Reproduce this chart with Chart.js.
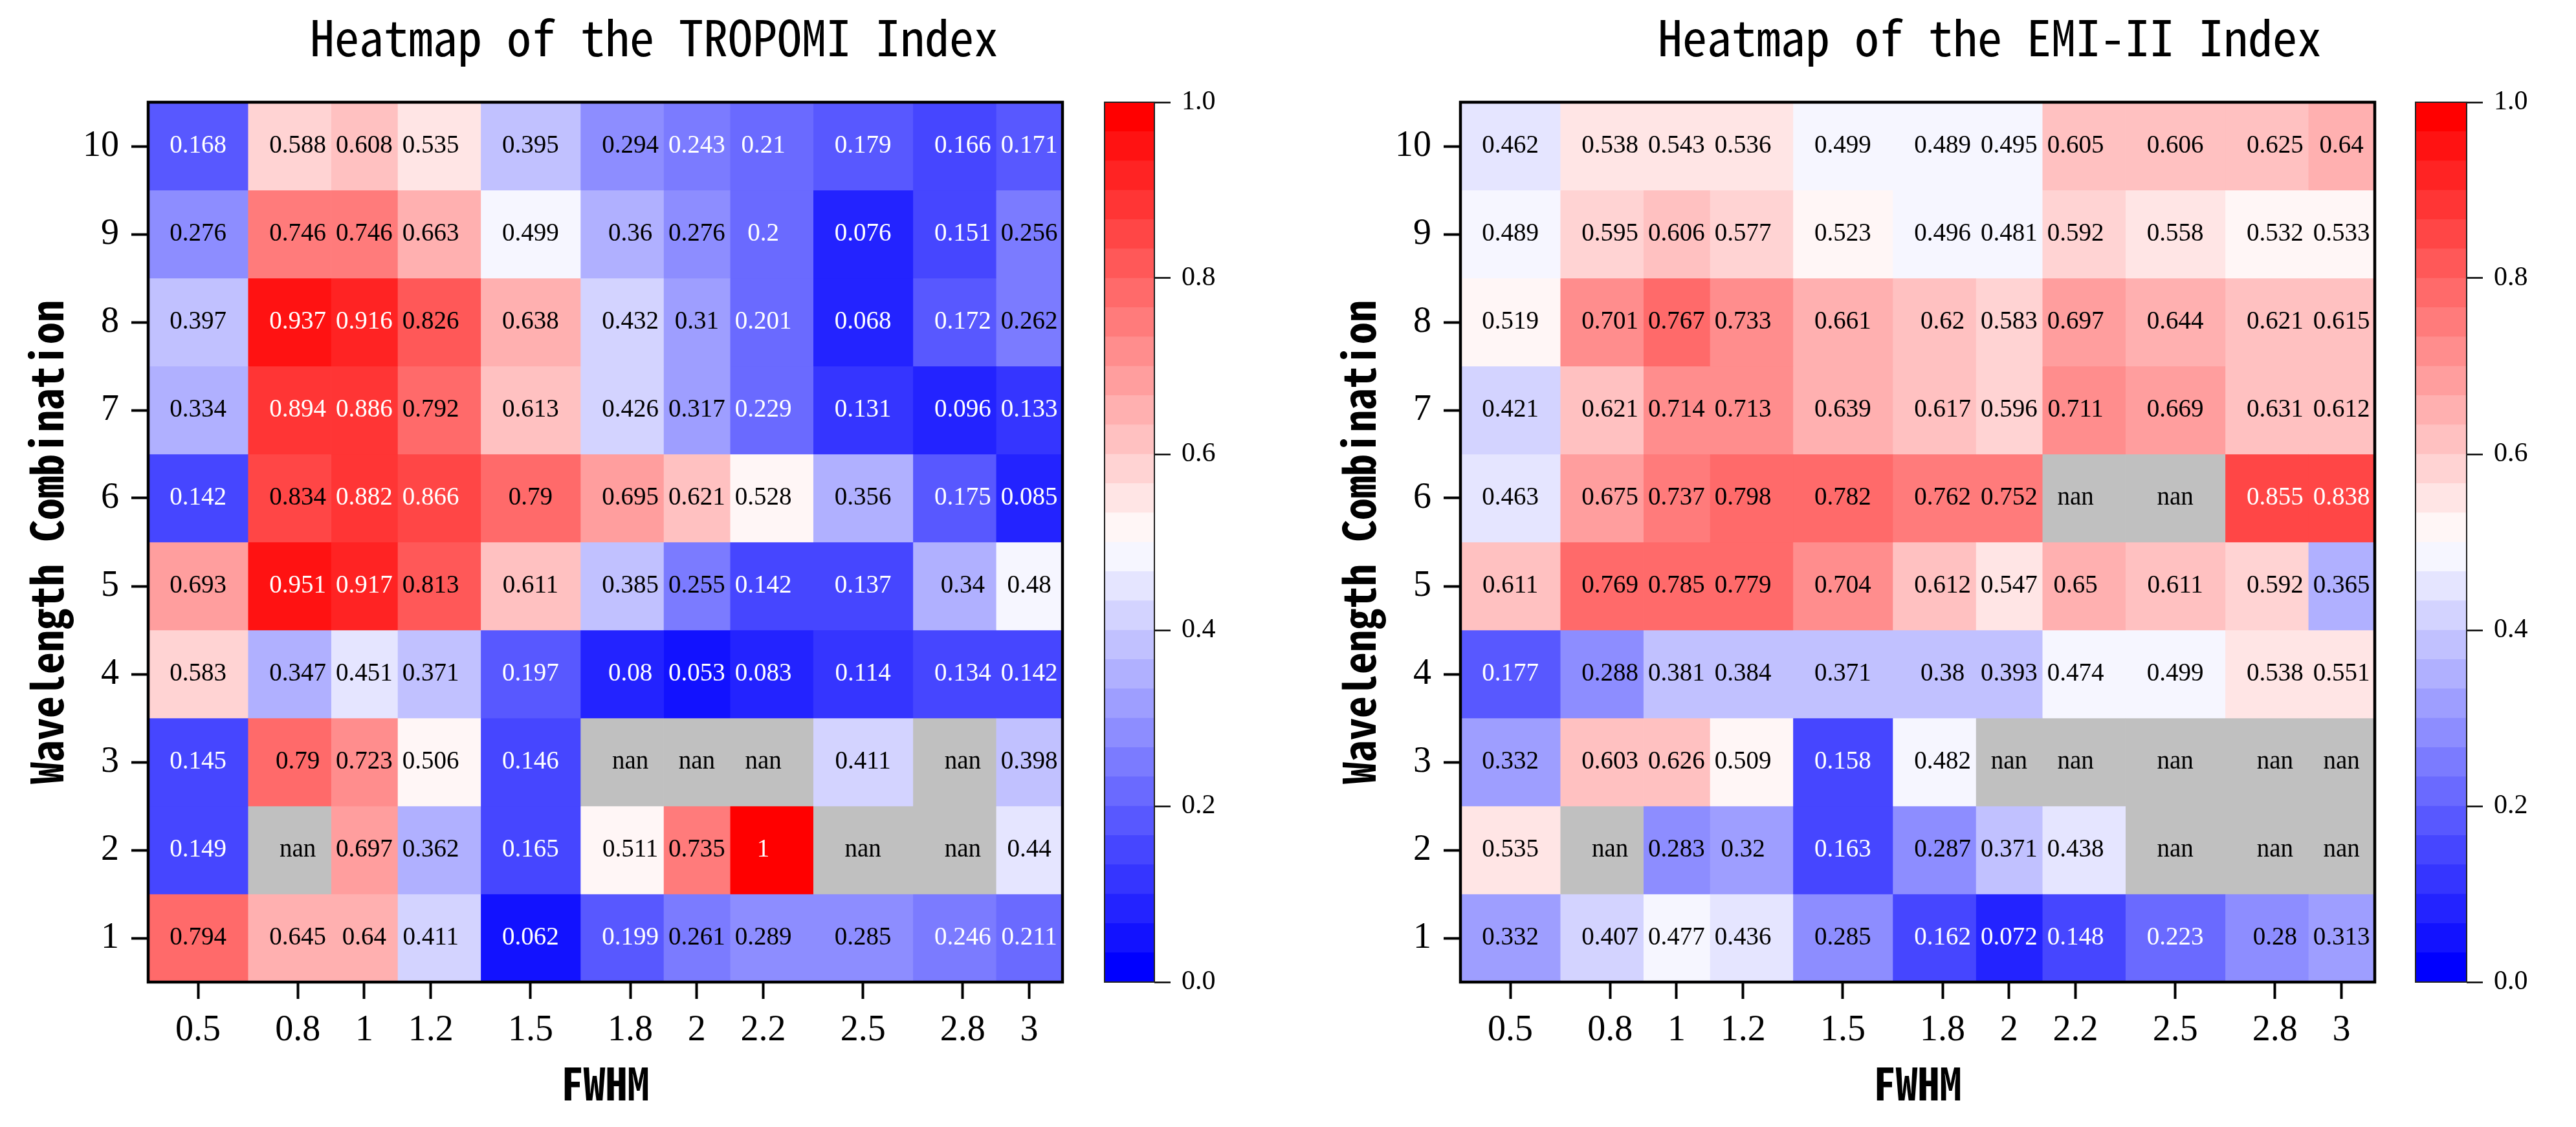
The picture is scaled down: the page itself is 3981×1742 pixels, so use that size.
<!DOCTYPE html>
<html>
<head>
<meta charset="utf-8">
<title>Heatmaps of the TROPOMI and EMI-II Index</title>
<script src="https://cdn.jsdelivr.net/npm/chart.js@4.4.1/dist/chart.umd.min.js"></script>
<style>
  html, body { margin: 0; padding: 0; background: #fff; overflow: hidden; }
  #page { position: relative; width: 3981px; height: 1742px; }
  canvas { position: absolute; top: 0; }
</style>
</head>
<body>
<div id="page">
  <canvas id="tropomiMap" width="1700" height="1742" style="left:0px"></canvas>
  <canvas id="tropomiBar" width="260" height="1742" style="left:1690px"></canvas>
  <canvas id="emiMap" width="1700" height="1742" style="left:2028px"></canvas>
  <canvas id="emiBar" width="260" height="1742" style="left:3716px"></canvas>
</div>
<script>
// FWHM columns and wavelength combination rows
const fwhmLabels = ['0.5', '0.8', '1', '1.2', '1.5', '1.8', '2', '2.2', '2.5', '2.8', '3'];
const comboLabels = ['1', '2', '3', '4', '5', '6', '7', '8', '9', '10'];
const cbarTicks = [0, 0.2, 0.4, 0.6, 0.8, 1.0];

// rows go from combination 1 (bottom) up to 10 (top), null = nan
const tropomiValues = [
  [0.794, 0.645, 0.64, 0.411, 0.062, 0.199, 0.261, 0.289, 0.285, 0.246, 0.211],
  [0.149, null, 0.697, 0.362, 0.165, 0.511, 0.735, 1, null, null, 0.44],
  [0.145, 0.79, 0.723, 0.506, 0.146, null, null, null, 0.411, null, 0.398],
  [0.583, 0.347, 0.451, 0.371, 0.197, 0.08, 0.053, 0.083, 0.114, 0.134, 0.142],
  [0.693, 0.951, 0.917, 0.813, 0.611, 0.385, 0.255, 0.142, 0.137, 0.34, 0.48],
  [0.142, 0.834, 0.882, 0.866, 0.79, 0.695, 0.621, 0.528, 0.356, 0.175, 0.085],
  [0.334, 0.894, 0.886, 0.792, 0.613, 0.426, 0.317, 0.229, 0.131, 0.096, 0.133],
  [0.397, 0.937, 0.916, 0.826, 0.638, 0.432, 0.31, 0.201, 0.068, 0.172, 0.262],
  [0.276, 0.746, 0.746, 0.663, 0.499, 0.36, 0.276, 0.2, 0.076, 0.151, 0.256],
  [0.168, 0.588, 0.608, 0.535, 0.395, 0.294, 0.243, 0.21, 0.179, 0.166, 0.171]
];

const emiValues = [
  [0.332, 0.407, 0.477, 0.436, 0.285, 0.162, 0.072, 0.148, 0.223, 0.28, 0.313],
  [0.535, null, 0.283, 0.32, 0.163, 0.287, 0.371, 0.438, null, null, null],
  [0.332, 0.603, 0.626, 0.509, 0.158, 0.482, null, null, null, null, null],
  [0.177, 0.288, 0.381, 0.384, 0.371, 0.38, 0.393, 0.474, 0.499, 0.538, 0.551],
  [0.611, 0.769, 0.785, 0.779, 0.704, 0.612, 0.547, 0.65, 0.611, 0.592, 0.365],
  [0.463, 0.675, 0.737, 0.798, 0.782, 0.762, 0.752, null, null, 0.855, 0.838],
  [0.421, 0.621, 0.714, 0.713, 0.639, 0.617, 0.596, 0.711, 0.669, 0.631, 0.612],
  [0.519, 0.701, 0.767, 0.733, 0.661, 0.62, 0.583, 0.697, 0.644, 0.621, 0.615],
  [0.489, 0.595, 0.606, 0.577, 0.523, 0.496, 0.481, 0.592, 0.558, 0.532, 0.533],
  [0.462, 0.538, 0.543, 0.536, 0.499, 0.489, 0.495, 0.605, 0.606, 0.625, 0.64]
];

const LEVELS = 30;
const serif = 'Liberation Serif, DejaVu Serif, serif';
const hei = '"Noto Sans Mono CJK SC", "DejaVu Sans Mono", monospace';

// matplotlib bwr: blue -> white -> red
function bwr(t) {
  const c = v => Math.round(v * 255);
  return t < 0.5
    ? 'rgb(' + c(2 * t) + ',' + c(2 * t) + ',255)'
    : 'rgb(255,' + c(2 * (1 - t)) + ',' + c(2 * (1 - t)) + ')';
}

function cellColor(v) {
  if (v === null) return '#c0c0c0';
  const k = Math.min(LEVELS - 1, Math.floor(v * LEVELS));
  return bwr(k / (LEVELS - 1));
}

function textColor(v) {
  if (v === null) return '#000';
  return (v < 0.25 || v > 0.836) ? '#fff' : '#000';
}

// cell edges halfway between FWHM values, outer ones mirrored
const fwhm = fwhmLabels.map(Number);
const edges = [fwhm[0] - (fwhm[1] - fwhm[0]) / 2];
for (let j = 0; j < fwhm.length - 1; j++) edges.push((fwhm[j] + fwhm[j + 1]) / 2);
edges.push(fwhm[fwhm.length - 1] + (fwhm[fwhm.length - 1] - fwhm[fwhm.length - 2]) / 2);

const frame = {
  id: 'frame',
  afterDraw(chart, args, opts) {
    const { ctx, chartArea: a } = chart;
    ctx.save();
    ctx.lineWidth = opts.width;
    ctx.strokeStyle = opts.color;
    ctx.strokeRect(a.left, a.top, a.right - a.left, a.bottom - a.top);
    ctx.restore();
  }
};

const panelTitle = {
  id: 'panelTitle',
  afterDraw(chart, args, opts) {
    const ctx = chart.ctx;
    ctx.save();
    ctx.font = '76px ' + hei;
    ctx.fillStyle = '#000';
    ctx.textAlign = 'center';
    ctx.textBaseline = 'alphabetic';
    ctx.fillText(opts.text, opts.x, opts.baseline);
    ctx.restore();
  }
};

const cellText = {
  id: 'cellText',
  afterDatasetsDraw(chart, args, opts) {
    const { ctx, scales: { x, y } } = chart;
    ctx.save();
    ctx.font = '39px ' + serif;
    ctx.textAlign = 'center';
    ctx.textBaseline = 'middle';
    opts.values.forEach((row, i) => {
      row.forEach((v, j) => {
        ctx.fillStyle = textColor(v);
        ctx.fillText(v === null ? 'nan' : String(v), x.getPixelForValue(fwhm[j]), y.getPixelForValue(i));
      });
    });
    ctx.restore();
  }
};

function heatmap(id, values, title, titleX) {
  const datasets = fwhm.map((f, j) => ({
    label: fwhmLabels[j],
    data: values.map(() => [edges[j], edges[j + 1]]),
    backgroundColor: values.map(row => cellColor(row[j])),
    borderWidth: 0,
    barPercentage: 1,
    categoryPercentage: 1,
    grouped: false
  }));

  return new Chart(document.getElementById(id), {
    type: 'bar',
    data: { labels: comboLabels, datasets: datasets },
    options: {
      indexAxis: 'y',
      responsive: false,
      animation: false,
      layout: { padding: { left: 0, right: 58, top: 158, bottom: 0 } },
      plugins: {
        legend: { display: false },
        tooltip: { enabled: false },
        frame: { width: 4.5, color: '#000' },
        panelTitle: { text: title, x: titleX, baseline: 87 },
        cellText: { values: values }
      },
      scales: {
        x: {
          type: 'linear',
          min: edges[0],
          max: edges[edges.length - 1],
          afterBuildTicks: s => { s.ticks = fwhm.map(v => ({ value: v })); },
          afterFit: s => { s.height = 224; },
          ticks: {
            autoSkip: false,
            maxRotation: 0,
            padding: 16,
            color: '#000',
            font: { family: serif, size: 56 },
            callback: (v, i) => fwhmLabels[i]
          },
          grid: { drawOnChartArea: false, drawTicks: true, tickLength: 26, tickWidth: 4, tickColor: '#000' },
          border: { display: false },
          title: {
            display: true,
            text: 'FWHM',
            color: '#000',
            font: { family: hei, size: 68, weight: 'bold' },
            padding: { top: 0, bottom: 26 }
          }
        },
        y: {
          reverse: true,
          offset: true,
          afterFit: s => { s.width = 229; },
          ticks: { padding: 19, color: '#000', font: { family: serif, size: 56 } },
          grid: { offset: false, drawOnChartArea: false, drawTicks: true, tickLength: 26, tickWidth: 4, tickColor: '#000' },
          border: { display: false },
          title: {
            display: true,
            text: 'Wavelength Combination',
            color: '#000',
            font: { family: hei, size: 68, weight: 'bold' },
            padding: { top: 31, bottom: 0 }
          }
        }
      }
    },
    plugins: [cellText, frame, panelTitle]
  });
}

function colorbar(id, padLeft, padRight) {
  const datasets = [];
  for (let k = 0; k < LEVELS; k++) {
    datasets.push({
      data: [[k / LEVELS, (k + 1) / LEVELS]],
      backgroundColor: bwr(k / (LEVELS - 1)),
      borderWidth: 0,
      barPercentage: 1,
      categoryPercentage: 1,
      grouped: false
    });
  }

  return new Chart(document.getElementById(id), {
    type: 'bar',
    data: { labels: [''], datasets: datasets },
    options: {
      responsive: false,
      animation: false,
      layout: { padding: { left: padLeft, right: padRight, top: 158, bottom: 224 } },
      plugins: {
        legend: { display: false },
        tooltip: { enabled: false },
        frame: { width: 2, color: '#222' }
      },
      scales: {
        x: { display: false },
        y: {
          position: 'right',
          min: 0,
          max: 1,
          afterBuildTicks: s => { s.ticks = cbarTicks.map(v => ({ value: v })); },
          afterFit: s => { s.width = 140; },
          ticks: {
            padding: 17,
            color: '#000',
            font: { family: serif, size: 42 },
            callback: v => v.toFixed(1)
          },
          grid: { drawOnChartArea: false, drawTicks: true, tickLength: 25, tickWidth: 2.5, tickColor: '#000' },
          border: { display: false }
        }
      }
    },
    plugins: [frame]
  });
}

heatmap('tropomiMap', tropomiValues, 'Heatmap of the TROPOMI Index', 1011);
colorbar('tropomiBar', 17, 26);
heatmap('emiMap', emiValues, 'Heatmap of the EMI-II Index', 1047);
colorbar('emiBar', 17, 24);
</script>
</body>
</html>
